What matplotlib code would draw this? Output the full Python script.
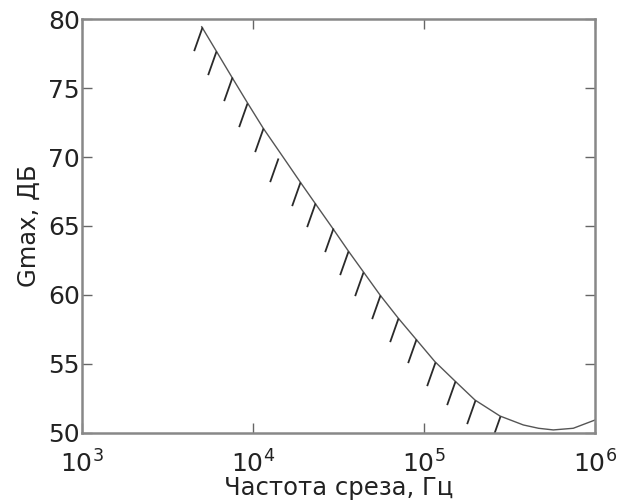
import numpy as np
import matplotlib
matplotlib.use('Agg')
import matplotlib.pyplot as plt
from matplotlib.path import Path

# curve (Hz, dB)
freq = [5012, 6081, 7499, 9264, 11480, 15170, 18830, 23060, 29240, 36070,
        44150, 55300, 70800, 89800, 115900, 151700, 198600, 278000,
        381000, 467000, 570000, 746000, 1000000]
gmax = [79.46, 77.72, 75.83, 73.95, 72.09, 69.91, 68.21, 66.65, 64.83, 63.19,
        61.68, 59.99, 58.30, 56.78, 55.15, 53.75, 52.37, 51.21,
        50.56, 50.32, 50.20, 50.32, 50.92]

# tops of the hatch dashes under the curve
hatch_freq = [5012, 6081, 7499, 9264, 11480, 14060, 18830, 23060, 29240, 36070,
              44150, 55300, 70800, 89800, 115900, 151700, 198600, 278000]
hatch_gmax = [79.46, 77.72, 75.83, 73.95, 72.09, 69.91, 68.21, 66.65, 64.83, 63.19,
              61.68, 59.99, 58.30, 56.78, 55.15, 53.75, 52.37, 51.21]

xticks = [1e3, 1e4, 1e5, 1e6]
xticklabels = ['$10^{3}$', '$10^{4}$', '$10^{5}$', '$10^{6}$']
yticks = [50, 55, 60, 65, 70, 75, 80]

fig = plt.figure(figsize=(6.28, 5.04), dpi=100)
ax = fig.add_axes([0.1306, 0.1415, 0.8169, 0.8202])

ax.plot(freq, gmax, color='#555555', lw=1.0)

# hatch: short dash going down-left from each top point
hatch = Path([(0, 0), (-8.3, -23.5)], [Path.MOVETO, Path.LINETO])
ax.plot(hatch_freq, hatch_gmax, linestyle='none', marker=hatch,
        markersize=34, markeredgecolor='#2a2a2a', markerfacecolor='none',
        markeredgewidth=1.3)

ax.set_xscale('log')
ax.set_xlim(1e3, 1e6)
ax.set_ylim(50, 80)
ax.set_xticks(xticks)
ax.set_xticklabels(xticklabels)
ax.set_yticks(yticks)
ax.minorticks_off()

for s in ax.spines.values():
    s.set_color('#888888')
    s.set_linewidth(1.8)

ax.tick_params(axis='both', direction='in', top=True, right=True, length=7,
               width=1, color='#666666', labelsize=18, labelcolor='#222222')
ax.tick_params(axis='x', pad=13)
ax.tick_params(axis='y', pad=1.5)

ax.set_xlabel('Частота среза, Гц', fontsize=17.5, color='#222222', labelpad=-1.5)
ax.set_ylabel('Gmax, ДБ', fontsize=17.5, color='#222222', labelpad=5)

fig.savefig('out.png', dpi=100)
